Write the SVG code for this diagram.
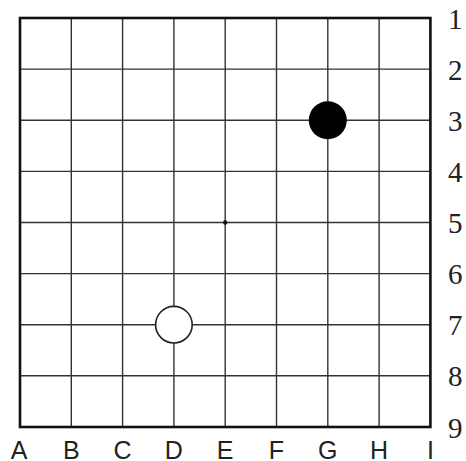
<svg xmlns="http://www.w3.org/2000/svg" width="466" height="461" viewBox="0 0 466 461">
<style>
.g{stroke:#333;stroke-width:1.4;fill:none}
.b{stroke:#111;stroke-width:2.6;fill:none}
.col{font-family:"Liberation Sans",Arial,sans-serif;font-size:25px;fill:#222;text-anchor:middle}
.row{font-family:"Liberation Serif","Times New Roman",serif;font-size:29px;fill:#222}
</style>
<rect width="466" height="461" fill="#fff"/>
<g id="grid">
<path class="g" d="M71.3 18V427M122.6 18V427M173.9 18V427M225.2 18V427M276.5 18V427M327.8 18V427M379.1 18V427M20 69.1H430.4M20 120.2H430.4M20 171.4H430.4M20 222.5H430.4M20 273.6H430.4M20 324.7H430.4M20 375.8H430.4"/>
<rect class="b" x="20" y="18" width="410.4" height="409"/>
<circle cx="225.2" cy="222.5" r="2.2" fill="#111"/>
</g>
<g id="stone-G3"><circle cx="327.8" cy="120.2" r="19" fill="#000"/></g>
<g id="stone-D7"><circle cx="173.9" cy="324.7" r="18.3" fill="#fff" stroke="#222" stroke-width="1.6"/></g>
<g id="col-labels">
<text class="col" x="19" y="459">A</text>
<text class="col" x="71.3" y="459">B</text>
<text class="col" x="122.6" y="459">C</text>
<text class="col" x="173.9" y="459">D</text>
<text class="col" x="225.2" y="459">E</text>
<text class="col" x="276.5" y="459">F</text>
<text class="col" x="327.8" y="459">G</text>
<text class="col" x="379.1" y="459">H</text>
<text class="col" x="430.4" y="459">I</text>
</g>
<g id="row-labels">
<text class="row" x="448" y="28.5">1</text>
<text class="row" x="448" y="79.6">2</text>
<text class="row" x="448" y="130.7">3</text>
<text class="row" x="448" y="181.9">4</text>
<text class="row" x="448" y="233">5</text>
<text class="row" x="448" y="284.1">6</text>
<text class="row" x="448" y="335.2">7</text>
<text class="row" x="448" y="386.3">8</text>
<text class="row" x="448" y="437.5">9</text>
</g>
</svg>
